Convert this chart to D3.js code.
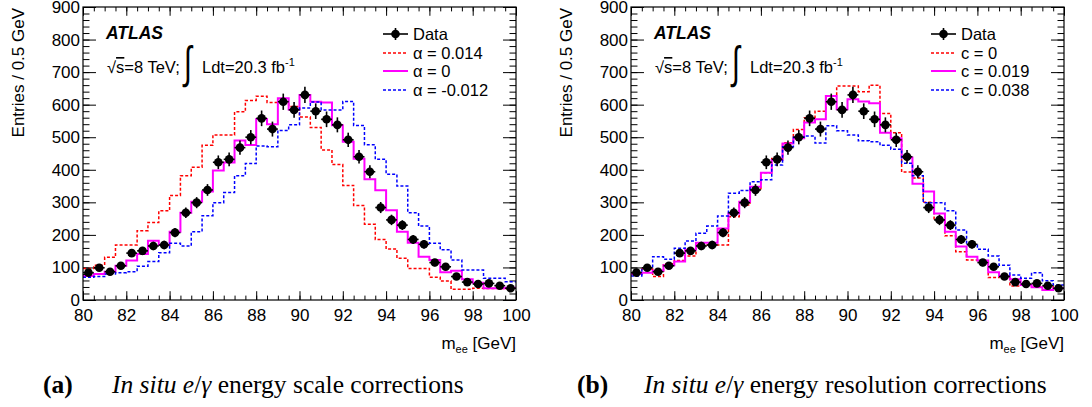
<!DOCTYPE html>
<html><head><meta charset="utf-8">
<script src="https://cdn.jsdelivr.net/npm/d3@7"></script>
<style>
body{margin:0;background:#fff;}
svg{display:block;background:#fff;}
</style></head><body>
<svg id="c" width="1092" height="407"></svg>
<script>
// ---------- data ----------
const binCenters = [80.25,80.75,81.25,81.75,82.25,82.75,83.25,83.75,84.25,84.75,
  85.25,85.75,86.25,86.75,87.25,87.75,88.25,88.75,89.25,89.75,
  90.25,90.75,91.25,91.75,92.25,92.75,93.25,93.75,94.25,94.75,
  95.25,95.75,96.25,96.75,97.25,97.75,98.25,98.75,99.25,99.75];
const binHalfWidth = 0.25;

const dataCounts = [84,99,87,105,144,151,166,169,207,268,
  299,338,423,432,468,500,558,525,609,584,
  630,580,555,538,492,440,394,284,246,230,
  186,171,115,102,72,55,49,51,44,36];
const dataErr = [9,10,9,10,12,12,13,13,14,16,
  17,18,21,21,22,22,24,23,25,24,
  25,24,24,23,22,21,20,17,16,15,
  14,13,11,10,8,7,7,7,7,6];

// (a) energy scale
const scaleAlphaHi = [97,107,131,169,169,213,238,274,321,382,
  408,475,507,507,578,613,626,607,606,594,
  562,530,461,416,352,290,233,186,157,128,
  97,97,70,58,33,33,36,35,35,34];
const scaleAlphaNom = [74,80,87,105,121,141,182,169,210,268,
  302,333,398,422,490,476,556,540,620,585,
  630,609,607,537,486,434,371,337,276,210,
  176,133,123,85,90,64,53,36,36,38];
const scaleAlphaLo = [70,72,80,84,87,104,118,145,174,166,
  210,259,299,330,382,419,473,471,521,538,
  590,608,584,584,610,536,477,432,386,350,
  268,227,174,154,123,92,92,67,67,56];

// (b) energy resolution
const resC0 = [78,95,72,111,121,135,169,169,169,256,
  292,338,391,435,483,524,560,580,627,657,
  657,640,660,573,514,393,375,300,246,197,
  148,123,118,69,74,43,46,40,42,36];
const resCNom = [80,84,90,107,118,154,176,176,220,266,
  302,348,391,430,481,497,545,555,627,586,
  617,610,604,514,497,438,357,333,266,210,
  164,133,121,85,74,64,46,39,31,36];
const resCWide = [74,97,133,125,159,181,205,227,258,328,
  336,363,369,415,471,500,504,482,535,520,
  507,489,486,475,463,420,382,299,299,274,
  215,169,156,135,107,77,67,84,59,46];

const xTicks = [80,82,84,86,88,90,92,94,96,98,100];
const yTicks = [0,100,200,300,400,500,600,700,800,900];
const legendA = ["Data","\u03b1 = 0.014","\u03b1 = 0","\u03b1 = -0.012"];
const legendB = ["Data","c = 0","c = 0.019","c = 0.038"];

// ---------- drawing ----------
const svg = d3.select("#c");
const SANS = "'Liberation Sans', Arial, Helvetica, sans-serif";
const SERIF = "'Liberation Serif', 'Times New Roman', serif";
const colors = {red:"#ff0000", mag:"#ff00ff", blue:"#0000ff"};

function drawPanel(p) {
  const g = svg.append("g");
  const x = d3.scaleLinear().domain([80,100]).range([p.left, p.left + p.w]);
  const y = d3.scaleLinear().domain([0,900]).range([p.top + p.h, p.top]);
  const xMinor = d3.range(80, 100.01, 0.5);
  const yMinor = d3.range(0, 900.01, 20);
  const tx = 0.03 * p.h, ty = 0.03 * p.w;

  function ax(axis, transform) {
    const a = g.append("g").attr("transform", transform).call(axis);
    a.select(".domain").remove();
    a.selectAll("line").attr("stroke","#000").attr("stroke-width",1);
    a.selectAll("text").attr("font-family",SANS).attr("font-size",17).attr("fill","#000");
    return a;
  }
  // bottom
  ax(d3.axisBottom(x).tickValues(xMinor).tickSize(-tx/2).tickFormat(""), `translate(0,${p.top+p.h})`);
  ax(d3.axisBottom(x).tickValues(xTicks).tickSize(-tx).tickPadding(9).tickFormat(d3.format("d")), `translate(0,${p.top+p.h})`);
  // top
  ax(d3.axisTop(x).tickValues(xMinor).tickSize(-tx/2).tickFormat(""), `translate(0,${p.top})`);
  ax(d3.axisTop(x).tickValues(xTicks).tickSize(-tx).tickFormat(""), `translate(0,${p.top})`);
  // left
  ax(d3.axisLeft(y).tickValues(yMinor).tickSize(-ty/2).tickFormat(""), `translate(${p.left},0)`);
  ax(d3.axisLeft(y).tickValues(yTicks).tickSize(-ty).tickPadding(3).tickFormat(d3.format("d")), `translate(${p.left},0)`);
  // right
  ax(d3.axisRight(y).tickValues(yMinor).tickSize(-ty/2).tickFormat(""), `translate(${p.left+p.w},0)`);
  ax(d3.axisRight(y).tickValues(yTicks).tickSize(-ty).tickFormat(""), `translate(${p.left+p.w},0)`);

  // histograms
  const step = d3.line().curve(d3.curveStepAfter).x(d => x(d[0])).y(d => y(d[1]));
  function hist(vals, color, dashed, width) {
    const pts = binCenters.map((c,i) => [c - binHalfWidth, vals[i]]);
    pts.push([binCenters[binCenters.length-1] + binHalfWidth, vals[vals.length-1]]);
    g.append("path").attr("d", step(pts)).attr("fill","none")
      .attr("stroke", color).attr("stroke-width", width)
      .attr("stroke-dasharray", dashed ? "3,2" : null);
  }
  p.series.forEach(s => hist(s.vals, s.color, s.dashed, s.dashed ? 1.5 : 2));

  // data points
  const dg = g.append("g");
  binCenters.forEach((c,i) => {
    const v = dataCounts[i], e = dataErr[i];
    dg.append("line").attr("x1",x(c-binHalfWidth)).attr("x2",x(c+binHalfWidth))
      .attr("y1",y(v)).attr("y2",y(v)).attr("stroke","#000").attr("stroke-width",1.6);
    dg.append("line").attr("x1",x(c)).attr("x2",x(c))
      .attr("y1",y(v-e)).attr("y2",y(v+e)).attr("stroke","#000").attr("stroke-width",1.6);
    dg.append("circle").attr("cx",x(c)).attr("cy",y(v)).attr("r",4.3).attr("fill","#000");
  });

  // frame
  g.append("rect").attr("x",p.left).attr("y",p.top).attr("width",p.w).attr("height",p.h)
    .attr("fill","none").attr("stroke","#000").attr("stroke-width",1.2);

  // axis titles
  g.append("text").attr("transform",`translate(${p.left-59},${p.top+1}) rotate(-90)`)
    .attr("text-anchor","end").attr("font-family",SANS).attr("font-size",17)
    .text("Entries / 0.5 GeV");
  const xt = g.append("text").attr("x",p.left+p.w).attr("y",349).attr("text-anchor","end")
    .attr("font-family",SANS).attr("font-size",17);
  xt.append("tspan").text("m");
  xt.append("tspan").attr("font-size",11).attr("dy",4).text("ee");
  xt.append("tspan").attr("dy",-4).text(" [GeV]");

  // ATLAS label
  g.append("text").attr("x",p.left+23).attr("y",39).attr("font-family",SANS)
    .attr("font-size",17.5).attr("font-weight","bold").attr("font-style","italic").text("ATLAS");
  const l2 = g.append("text").attr("x",p.left+24).attr("y",73).attr("font-family",SANS).attr("font-size",16.5);
  l2.append("tspan").text("\u221a");
  l2.append("tspan").attr("text-decoration","overline").text("s");
  l2.append("tspan").text("=8 TeV;");
  g.append("text").attr("transform",`translate(${p.left+101},78) scale(0.8,1.25)`)
    .attr("font-family",SANS).attr("font-size",36).text("\u222b");
  const l3 = g.append("text").attr("x",p.left+119).attr("y",73).attr("font-family",SANS).attr("font-size",16.5);
  l3.append("tspan").text("Ldt=20.3 fb");
  l3.append("tspan").attr("font-size",11).attr("dy",-7).text("-1");

  // legend
  const ly = [34, 53, 71, 90];
  const lx0 = p.left + 300, lx1 = p.left + 325;
  p.legend.forEach((lab,i) => {
    if (i === 0) {
      g.append("line").attr("x1",lx0).attr("x2",lx1).attr("y1",ly[i]).attr("y2",ly[i]).attr("stroke","#000").attr("stroke-width",1.6);
      g.append("line").attr("x1",(lx0+lx1)/2).attr("x2",(lx0+lx1)/2).attr("y1",ly[i]-6).attr("y2",ly[i]+6).attr("stroke","#000").attr("stroke-width",1.6);
      g.append("circle").attr("cx",(lx0+lx1)/2).attr("cy",ly[i]).attr("r",4.3).attr("fill","#000");
    } else {
      const s = p.series[i-1];
      g.append("line").attr("x1",lx0).attr("x2",lx1).attr("y1",ly[i]).attr("y2",ly[i])
        .attr("stroke",s.color).attr("stroke-width",s.dashed?1.5:2).attr("stroke-dasharray",s.dashed?"3,2":null);
    }
    g.append("text").attr("x",lx1+5).attr("y",ly[i]+6).attr("font-family",SANS).attr("font-size",16.5).text(lab);
  });

  // caption
  const cap = g.append("text").attr("x",p.capX).attr("y",393).attr("font-family",SERIF).attr("font-size",25.5);
  cap.append("tspan").attr("font-weight","bold").text(p.capLabel);
  cap.append("tspan").attr("x",p.capX+p.capGap).attr("font-style","italic").text("In situ");
  cap.append("tspan").text(" ");
  cap.append("tspan").attr("font-style","italic").text("e");
  cap.append("tspan").text("/");
  cap.append("tspan").attr("font-style","italic").text("\u03b3");
  cap.append("tspan").text(p.capText);
}

drawPanel({left:83, top:7, w:433, h:293, legend:legendA,
  series:[{vals:scaleAlphaHi,color:colors.red,dashed:true},
          {vals:scaleAlphaNom,color:colors.mag,dashed:false},
          {vals:scaleAlphaLo,color:colors.blue,dashed:true}],
  capX:43, capGap:69, capLabel:"(a)", capText:" energy scale corrections"});
drawPanel({left:631, top:7, w:433, h:293, legend:legendB,
  series:[{vals:resC0,color:colors.red,dashed:true},
          {vals:resCNom,color:colors.mag,dashed:false},
          {vals:resCWide,color:colors.blue,dashed:true}],
  capX:577, capGap:67, capLabel:"(b)", capText:" energy resolution corrections"});
</script>
</body></html>
